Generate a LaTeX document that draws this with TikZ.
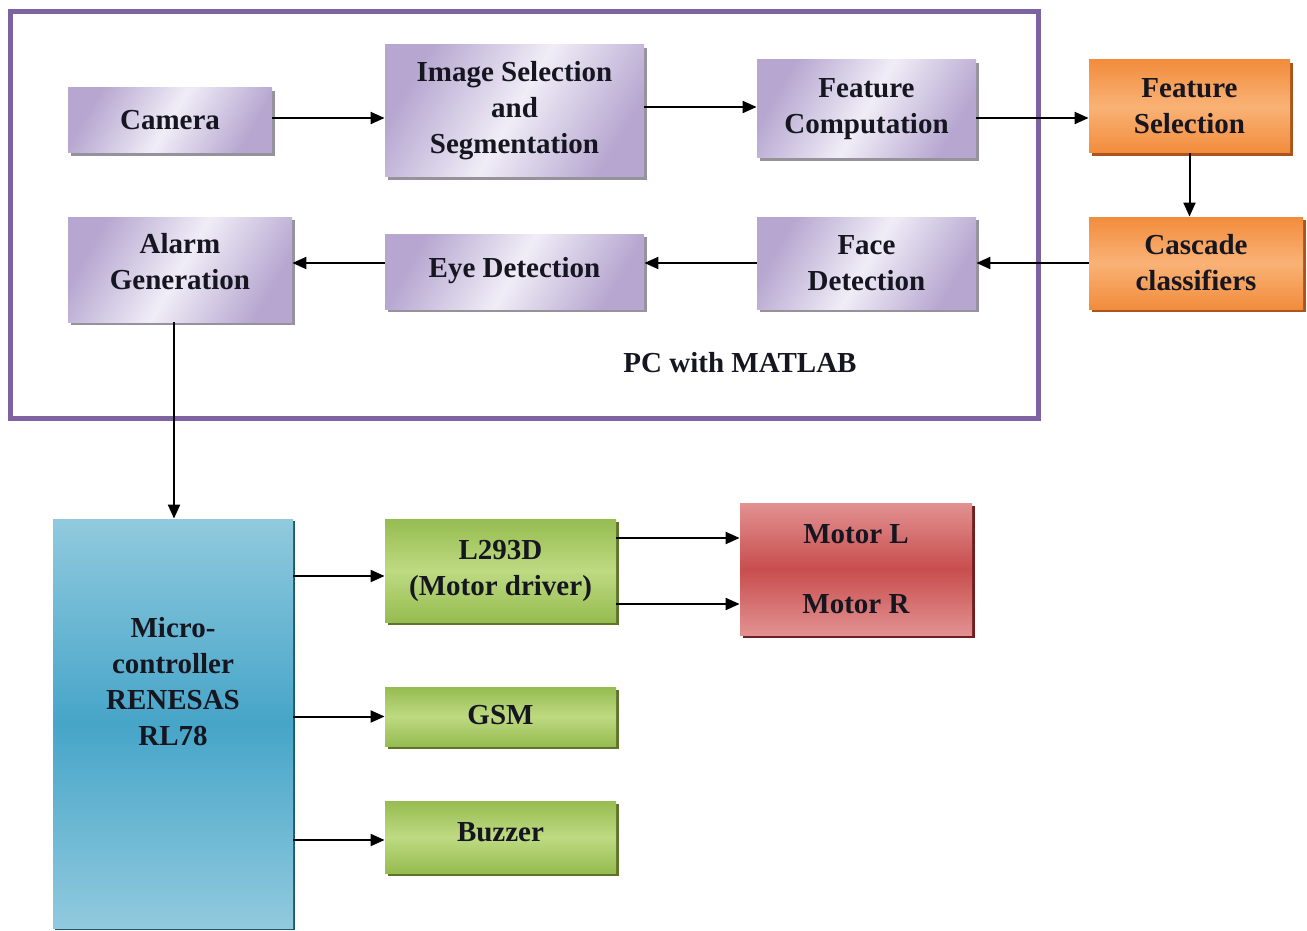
\documentclass[tikz,border=0pt]{standalone}
\usepackage{fontspec}
\setmainfont{Liberation Serif}
\usetikzlibrary{arrows.meta,shadows,calc}
\definecolor{frameP}{RGB}{125,100,160}
\definecolor{pDark}{RGB}{182,166,208}
\definecolor{pLight}{RGB}{240,237,247}
\definecolor{pShadow}{RGB}{150,146,156}
\definecolor{oDark}{RGB}{242,140,60}
\definecolor{oLight}{RGB}{249,178,118}
\definecolor{oShadow}{RGB}{170,85,30}
\definecolor{gDark}{RGB}{150,188,80}
\definecolor{gLight}{RGB}{190,218,130}
\definecolor{gShadow}{RGB}{95,115,45}
\definecolor{rDark}{RGB}{200,78,78}
\definecolor{rLight}{RGB}{226,145,145}
\definecolor{rShadow}{RGB}{115,30,30}
\definecolor{bDark}{RGB}{70,165,200}
\definecolor{bLight}{RGB}{145,202,222}
\definecolor{bShadow}{RGB}{30,90,110}
\definecolor{txt}{RGB}{22,22,32}
\tikzset{
  tfont/.style={font=\fontsize{14.5}{18}\selectfont\bfseries, text=txt, align=center},
  blk/.style={rectangle, inner sep=2pt, tfont},
  pbox/.style={blk, left color=pDark, right color=pDark, middle color=pLight, shading angle=60,
    drop shadow={shadow xshift=1.6pt, shadow yshift=-1.6pt, fill=pShadow, opacity=1}},
  obox/.style={blk, top color=oDark, bottom color=oDark, middle color=oLight,
    drop shadow={shadow xshift=1.6pt, shadow yshift=-1.6pt, fill=oShadow, opacity=1}},
  gbox/.style={blk, top color=gDark, bottom color=gDark, middle color=gLight,
    drop shadow={shadow xshift=1.6pt, shadow yshift=-1.6pt, fill=gShadow, opacity=1}},
  rbox/.style={blk, top color=rLight, bottom color=rLight, middle color=rDark,
    drop shadow={shadow xshift=1.6pt, shadow yshift=-1.6pt, fill=rShadow, opacity=1}},
  bbox/.style={blk, top color=bLight, bottom color=bLight, middle color=bDark,
    drop shadow={shadow xshift=1.2pt, shadow yshift=-1.2pt, fill=bShadow, opacity=1}},
  arr/.style={line width=1pt, draw=black, -{Triangle[length=7pt,width=6pt]}},
}
\begin{document}
\begin{tikzpicture}[x=0.5pt,y=-0.5pt]
\useasboundingbox (0,0) rectangle (1307,931);
% frame
\node[draw=frameP, line width=2.5pt, minimum width=514pt, minimum height=203pt, inner sep=0pt] (frame) at (524,215) {};
\node[tfont] (pc) at (740,363) {PC with MATLAB};
% top row
\node[pbox, minimum width=102pt, minimum height=32.5pt] (cam) at (170,120.5) {Camera};
\node[pbox, minimum width=129.5pt, minimum height=66pt] (img) at (514.5,111) {Image Selection\\and\\Segmentation};
\node[pbox, minimum width=109.5pt, minimum height=49pt] (fc) at (866.5,109) {Feature\\Computation};
\node[obox, minimum width=100.5pt, minimum height=46.5pt] (fs) at (1189.5,106.5) {Feature\\Selection};
% second row
\node[obox, minimum width=107pt, minimum height=46pt] (cas) at (1196,263) {Cascade\\classifiers};
\node[pbox, minimum width=109.5pt, minimum height=46pt] (face) at (866.5,263) {Face\\Detection};
\node[pbox, minimum width=129.5pt, minimum height=37.5pt] (eye) at (514.5,271.5) {\raisebox{4pt}{Eye Detection}};
\node[pbox, minimum width=112pt, minimum height=52.5pt,
  label={[tfont, yshift=4pt]center:Alarm\\Generation}] (alarm) at (180,269.5) {};
% lower part
\node[bbox, minimum width=120pt, minimum height=204.5pt,
  label={[tfont, yshift=21pt]center:Micro-\\controller\\RENESAS\\RL78}] (mc) at (173,723.5) {};
\node[gbox, minimum width=115.5pt, minimum height=51.5pt] (drv) at (500.5,570.5) {L293D\\(Motor driver)};
\node[rbox, minimum width=116pt, minimum height=66pt] (mot) at (856,569) {Motor L\\[17pt]Motor R};
\node[gbox, minimum width=115.5pt, minimum height=29.5pt] (gsm) at (500.5,716.5) {\raisebox{2pt}{GSM}};
\node[gbox, minimum width=115.5pt, minimum height=36pt] (buz) at (500.5,837) {\raisebox{5pt}{Buzzer}};
% arrows
\draw[arr] ([yshift=1.25pt]cam.east) -- ([yshift=1.25pt]cam.east -| img.west);
\draw[arr] ([yshift=2pt]img.east) -- ([yshift=2pt]img.east -| fc.west);
\draw[arr] ([yshift=-4.5pt]fc.east) -- ([yshift=-4.5pt]fc.east -| fs.west);
\draw[arr] (fs.south) -- (fs.south |- cas.north);
\draw[arr] (cas.west) -- (cas.west -| face.east);
\draw[arr] (face.west) -- (face.west -| eye.east);
\draw[arr] (face.west -| eye.west) -- (face.west -| alarm.east);
\draw[arr] ([xshift=-3pt]alarm.south) -- ([xshift=-3pt]alarm.south |- mc.north);
\draw[arr] ([yshift=-2.75pt]drv.west -| mc.east) -- ([yshift=-2.75pt]drv.west);
\draw[arr] (gsm.west -| mc.east) -- (gsm.west);
\draw[arr] ([yshift=-1.5pt]buz.west -| mc.east) -- ([yshift=-1.5pt]buz.west);
\draw[arr] ([yshift=16.25pt]drv.east) -- ([yshift=16.25pt]drv.east -| mot.west);
\draw[arr] ([yshift=-16.75pt]drv.east) -- ([yshift=-16.75pt]drv.east -| mot.west);
\end{tikzpicture}
\end{document}
